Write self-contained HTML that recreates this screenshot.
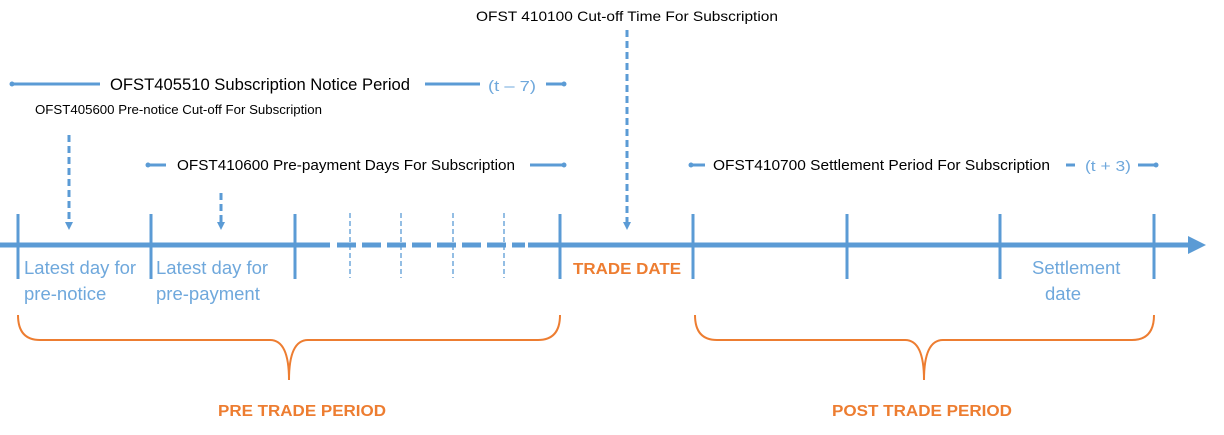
<!DOCTYPE html>
<html><head><style>body{margin:0;background:#fff}svg{display:block}</style></head><body>
<svg width="1224" height="435" viewBox="0 0 1224 435" xmlns="http://www.w3.org/2000/svg" font-family="Liberation Sans, sans-serif">
<defs>
<marker id="ah" markerWidth="8" markerHeight="8" refX="4" refY="4" orient="auto" markerUnits="userSpaceOnUse"><path d="M0,0 L8,4 L0,8 z" fill="#5b9bd5"/></marker>
</defs>
<g stroke="#5b9bd5" fill="none">
<line x1="0" y1="245" x2="330" y2="245" stroke-width="5"/>
<line x1="337" y1="245" x2="525" y2="245" stroke-width="5" stroke-dasharray="19,6"/>
<line x1="528" y1="245" x2="1190" y2="245" stroke-width="5"/>
<g stroke-width="3">
<line x1="18" y1="214" x2="18" y2="279"/><line x1="151" y1="214" x2="151" y2="279"/>
<line x1="295" y1="214" x2="295" y2="279"/><line x1="560" y1="214" x2="560" y2="279"/>
<line x1="693" y1="214" x2="693" y2="279"/><line x1="847" y1="214" x2="847" y2="279"/>
<line x1="1000" y1="214" x2="1000" y2="279"/><line x1="1154" y1="214" x2="1154" y2="279"/>
</g>
<g stroke-width="1.3" stroke-dasharray="5,3">
<line x1="350" y1="213" x2="350" y2="278"/><line x1="401" y1="213" x2="401" y2="278"/>
<line x1="453" y1="213" x2="453" y2="278"/><line x1="504" y1="213" x2="504" y2="278"/>
</g>
<g stroke-width="3" stroke-dasharray="7,4" marker-end="url(#ah)">
<line x1="627" y1="30" x2="627" y2="226"/>
<line x1="69" y1="135" x2="69" y2="226"/>
<line x1="221" y1="193" x2="221" y2="226"/>
</g>
<g stroke-width="3">
<line x1="14" y1="84" x2="100" y2="84"/><line x1="425" y1="84" x2="480" y2="84"/><line x1="546" y1="84" x2="563" y2="84"/>
<line x1="150" y1="165" x2="166" y2="165"/><line x1="530" y1="165" x2="563" y2="165"/>
<line x1="693" y1="165" x2="705" y2="165"/><line x1="1066" y1="165" x2="1075" y2="165"/><line x1="1138" y1="165" x2="1155" y2="165"/>
</g>
</g>
<g fill="#5b9bd5">
<path d="M1188,236 L1206,245 L1188,254 z"/>
<circle cx="12" cy="84" r="2.5"/><circle cx="564" cy="84" r="2.5"/>
<circle cx="148" cy="165" r="2.5"/><circle cx="564" cy="165" r="2.5"/>
<circle cx="691" cy="165" r="2.5"/><circle cx="1156" cy="165" r="2.5"/>
</g>
<g stroke="#ed7d31" stroke-width="2" fill="none">
<path d="M18,315 Q18,340 40,340 L270,340 Q289,340 289,380 Q289,340 308,340 L538,340 Q560,340 560,315"/>
<path d="M695,315 Q695,340 717,340 L905,340 Q924,340 924,380 Q924,340 943,340 L1132,340 Q1154,340 1154,315"/>
</g>
<g fill="#000">
<text x="476" y="21" font-size="14" textLength="302" lengthAdjust="spacingAndGlyphs">OFST 410100 Cut-off Time For Subscription</text>
<text x="110" y="90" font-size="16.5" textLength="300" lengthAdjust="spacingAndGlyphs">OFST405510 Subscription Notice Period</text>
<text x="35" y="114" font-size="12.5" textLength="287" lengthAdjust="spacingAndGlyphs">OFST405600  Pre-notice Cut-off For Subscription</text>
<text x="177" y="170" font-size="14.5" textLength="338" lengthAdjust="spacingAndGlyphs">OFST410600 Pre-payment Days For Subscription</text>
<text x="713" y="170" font-size="14.5" textLength="337" lengthAdjust="spacingAndGlyphs">OFST410700 Settlement Period For Subscription</text>
</g>
<g fill="#6fa8dc">
<text x="488" y="91" font-size="15" textLength="48" lengthAdjust="spacingAndGlyphs">(t – 7)</text>
<text x="1085" y="171" font-size="15" textLength="46" lengthAdjust="spacingAndGlyphs">(t + 3)</text>
<g font-size="18.5">
<text x="24" y="274">Latest day for</text><text x="24" y="300">pre-notice</text>
<text x="156" y="274">Latest day for</text><text x="156" y="300">pre-payment</text>
<text x="1032" y="274">Settlement</text><text x="1045" y="300">date</text>
</g>
</g>
<g fill="#ed7d31" font-weight="bold" font-size="16">
<text x="573" y="274" textLength="108" lengthAdjust="spacingAndGlyphs">TRADE DATE</text>
<text x="218" y="416" textLength="168" lengthAdjust="spacingAndGlyphs">PRE TRADE PERIOD</text>
<text x="832" y="416" textLength="180" lengthAdjust="spacingAndGlyphs">POST TRADE PERIOD</text>
</g>
</svg>
</body></html>
